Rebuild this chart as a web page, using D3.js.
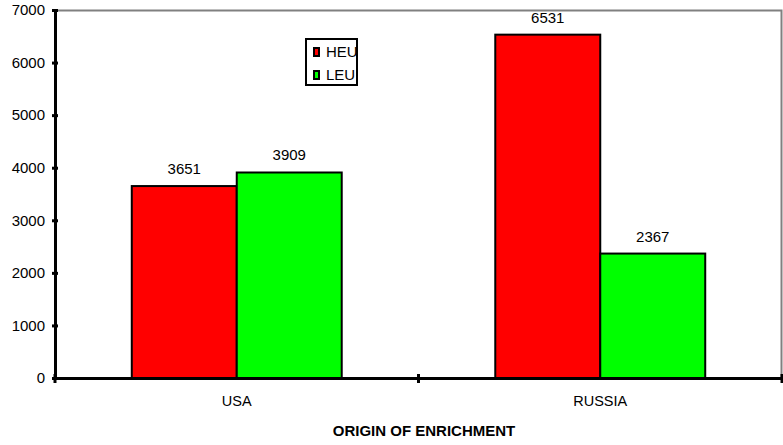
<!DOCTYPE html>
<html>
<head>
<meta charset="utf-8">
<script src="https://cdn.jsdelivr.net/npm/d3@7/dist/d3.min.js"></script>
<style>
  body { margin: 0; background: #fff; }
  svg { display: block; font-family: "Liberation Sans", Arial, sans-serif; }
</style>
</head>
<body>
<svg id="chart" width="783" height="445"></svg>
<script>
// Enrichment origin: HEU vs LEU quantities
const categories = ["USA", "RUSSIA"];
const seriesNames = ["HEU", "LEU"];
const heuValues = [3651, 6531];
const leuValues = [3909, 2367];
const yTicks = [0, 1000, 2000, 3000, 4000, 5000, 6000, 7000];
const xTitle = "ORIGIN OF ENRICHMENT";
const colors = { HEU: "#ff0000", LEU: "#00ff00" };

const FONT = "Liberation Sans, Arial, sans-serif";
const svg = d3.select("#chart");
const margin = { left: 55, right: 1, top: 10, bottom: 67 };
const W = 783, H = 445;
const innerW = W - margin.left - margin.right;
const innerH = H - margin.top - margin.bottom;

const g = svg.append("g").attr("transform", `translate(${margin.left},${margin.top})`);

const x0 = d3.scaleBand().domain(categories).range([0, innerW]).paddingInner(0).paddingOuter(0);
const x1 = d3.scaleBand().domain(seriesNames).range([x0.bandwidth() * 0.2112, x0.bandwidth() * 0.7888]);
const y = d3.scaleLinear().domain([0, 7000]).range([innerH, 0]);

// plot frame (top and right edges)
g.append("path")
  .attr("d", `M0,0.5H${innerW - 0.5}V${innerH}`)
  .attr("fill", "none").attr("stroke", "#808080").attr("stroke-width", 2);

const rows = categories.map((c, i) => ({ cat: c, HEU: heuValues[i], LEU: leuValues[i] }));

const groups = g.selectAll(".grp").data(rows).enter().append("g")
  .attr("transform", d => `translate(${x0(d.cat)},0)`);

groups.selectAll("rect")
  .data(d => seriesNames.map(s => ({ s, v: d[s] })))
  .enter().append("rect")
  .attr("x", d => x1(d.s))
  .attr("y", d => y(d.v))
  .attr("width", x1.bandwidth())
  .attr("height", d => y(0) - y(d.v))
  .attr("fill", d => colors[d.s])
  .attr("stroke", "#000").attr("stroke-width", 2);

groups.selectAll("text.val")
  .data(d => seriesNames.map(s => ({ s, v: d[s] })))
  .enter().append("text")
  .attr("class", "val")
  .attr("x", d => x1(d.s) + x1.bandwidth() / 2)
  .attr("y", d => y(d.v) - 12)
  .attr("text-anchor", "middle")
  .attr("font-size", 15).attr("fill", "#000")
  .text(d => d.v);

// y axis
const yAxis = g.append("g").call(d3.axisLeft(y).tickValues(yTicks).tickSize(4).tickSizeOuter(0).tickFormat(d3.format("d")));
yAxis.select(".domain").attr("stroke", "#000").attr("stroke-width", 3);
yAxis.selectAll(".tick line").attr("stroke", "#000").attr("stroke-width", 3).attr("x1", -3).attr("x2", 3);
yAxis.selectAll(".tick text").attr("font-size", 15).attr("fill", "#000").attr("x", -10)
  .attr("font-family", FONT);

// x axis
const xAxis = g.append("g").attr("transform", `translate(0,${innerH})`)
  .call(d3.axisBottom(x0).tickSize(0).tickSizeOuter(0));
xAxis.select(".domain").attr("stroke", "#000").attr("stroke-width", 3);
xAxis.selectAll(".tick text").attr("font-size", 14.5).attr("fill", "#000").attr("dy", 0).attr("y", 28)
  .attr("font-family", FONT);
// category boundary ticks
const bounds = [0, x0.bandwidth(), innerW];
g.selectAll(".bt").data(bounds).enter().append("line")
  .attr("x1", d => d).attr("x2", d => d)
  .attr("y1", innerH - 4).attr("y2", innerH + 5)
  .attr("stroke", "#000").attr("stroke-width", 3);

// axis title
svg.append("text")
  .attr("x", 424).attr("y", 436)
  .attr("text-anchor", "middle").attr("font-size", 15).attr("font-weight", "bold")
  .text(xTitle);

// legend
const lg = svg.append("g").attr("transform", "translate(306,39)");
lg.append("rect").attr("width", 51).attr("height", 46)
  .attr("fill", "#fff").attr("stroke", "#000").attr("stroke-width", 2);
seriesNames.forEach((s, i) => {
  const yy = 13 + i * 23;
  lg.append("rect").attr("x", 8).attr("y", yy - 4).attr("width", 5).attr("height", 8)
    .attr("fill", colors[s]).attr("stroke", "#000").attr("stroke-width", 2);
  lg.append("text").attr("x", 20).attr("y", yy + 5).attr("font-size", 15).text(s);
});
</script>
</body>
</html>
